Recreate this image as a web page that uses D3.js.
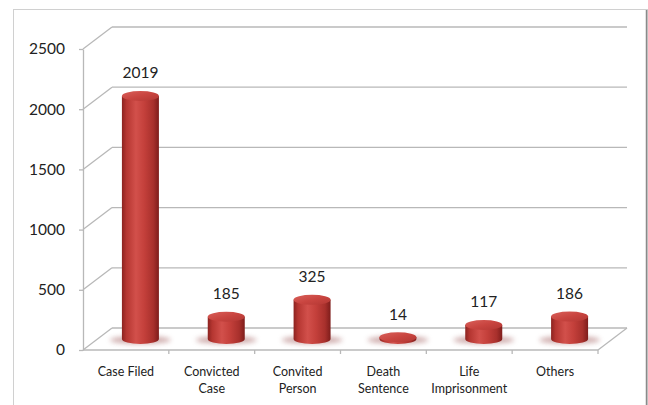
<!DOCTYPE html>
<html><head><meta charset="utf-8">
<script src="https://cdn.jsdelivr.net/npm/d3@7"></script>
<style>
html,body{margin:0;padding:0;background:#fff;}
svg{display:block;font-family:Lato,"Open Sans",sans-serif;}
</style></head>
<body>
<svg id="chart" width="648" height="405"></svg>
<script>
const categories = ["Case Filed","Convicted Case","Convited Person","Death Sentence","Life Imprisonment","Others"];
const categoryLines = [["Case Filed"],["Convicted","Case"],["Convited","Person"],["Death","Sentence"],["Life","Imprisonment"],["Others"]];
const values = [2019,185,325,14,117,186];
const yTicks = [0,500,1000,1500,2000,2500];

(function(){
const svg = d3.select("#chart");
const W = 648, H = 405;
const mLeft = 83, mRight = 598, mTop = 49, mBottom = 350;
const depthX = 29, depthY = -22;

const x = d3.scaleBand().domain(categories).range([mLeft, mRight]).padding(0);
const y = d3.scaleLinear().domain([0, 2500]).range([mBottom, mTop]);

// outer border
svg.append("rect").attr("x",13.5).attr("y",9.5).attr("width",W-14).attr("height",H)
  .attr("fill","none").attr("stroke","#d0d0d0").attr("stroke-width",1);
svg.append("line").attr("x1",646.5).attr("x2",646.5).attr("y1",10).attr("y2",H)
  .attr("stroke","#8a8a8a").attr("stroke-width",1.5);

const grid = svg.append("g").attr("stroke","#b8b8b8").attr("stroke-width",1.3).attr("fill","none");
yTicks.forEach(t => {
  grid.append("line").attr("x1",mLeft+depthX).attr("x2",mRight+depthX)
    .attr("y1",y(t)+depthY).attr("y2",y(t)+depthY);
  grid.append("line").attr("x1",mLeft).attr("x2",mLeft+depthX)
    .attr("y1",y(t)).attr("y2",y(t)+depthY);
});
grid.append("line").attr("x1",mLeft).attr("x2",mRight).attr("y1",mBottom).attr("y2",mBottom);
grid.append("line").attr("x1",mRight).attr("x2",mRight+depthX).attr("y1",mBottom).attr("y2",mBottom+depthY);
categories.forEach((c,i) => {
  if (i === 0) return;
  grid.append("line").attr("x1",x(c)).attr("x2",x(c)).attr("y1",mBottom).attr("y2",mBottom+4);
});
grid.append("line").attr("x1",mRight).attr("x2",mRight).attr("y1",mBottom).attr("y2",mBottom+4);

// y axis
const yAxis = d3.axisLeft(y).tickValues(yTicks).tickFormat(d3.format("d")).tickSize(4).tickSizeOuter(0).tickPadding(14);
const ya = svg.append("g").attr("transform",`translate(${mLeft},0)`).call(yAxis);
ya.select(".domain").attr("stroke","#b8b8b8").attr("stroke-width",1.3);
ya.selectAll(".tick line").attr("stroke","#b8b8b8").attr("stroke-width",1.3);
ya.selectAll(".tick text").attr("fill","#222").style("font-size","15.5px").style("font-family","Lato,sans-serif");

// x axis labels
const xAxis = d3.axisBottom(x).tickSize(0).tickFormat(()=>"");
const xa = svg.append("g").attr("transform",`translate(0,${mBottom})`).call(xAxis);
xa.select(".domain").remove();
xa.selectAll(".tick").each(function(d,i){
  const t = d3.select(this).select("text").attr("y",null).attr("dy",null).attr("fill","#222")
    .style("font-size","12.5px").style("font-family","Lato,sans-serif");
  categoryLines[i].forEach((ln,j)=>{
    t.append("tspan").attr("x",0).attr("y",26 + j*17).text(ln);
  });
});

// defs
const defs = svg.append("defs");
const grad = defs.append("linearGradient").attr("id","cyl").attr("x1","0").attr("x2","1").attr("y1","0").attr("y2","0");
[[0,"#8c2320"],[0.12,"#b53631"],[0.38,"#d2504b"],[0.6,"#c4403b"],[0.85,"#a8302c"],[1,"#7e1d1b"]]
  .forEach(([o,c])=>grad.append("stop").attr("offset",o).attr("stop-color",c));
const gradTop = defs.append("linearGradient").attr("id","cylTop").attr("x1","0").attr("x2","1").attr("y1","0").attr("y2","1");
[[0,"#d9605a"],[0.5,"#c94540"],[1,"#b23733"]].forEach(([o,c])=>gradTop.append("stop").attr("offset",o).attr("stop-color",c));
defs.append("filter").attr("id","blur").attr("x","-50%").attr("y","-100%").attr("width","200%").attr("height","300%")
  .append("feGaussianBlur").attr("stdDeviation",2.5);

const rx = 18.5, ry = 5;
const bars = svg.append("g");
values.forEach((v,i)=>{
  const cx = x(categories[i]) + x.bandwidth()/2 + depthX/2;
  const yb = y(0) + depthY/2;
  const yt = y(v) + depthY/2;
  bars.append("ellipse").attr("cx",cx).attr("cy",yb+1).attr("rx",rx+12).attr("ry",4)
    .attr("fill","#a86a6a").attr("opacity",0.55).attr("filter","url(#blur)");
  bars.append("path")
    .attr("d",`M${cx-rx},${yt} L${cx-rx},${yb} A${rx},${ry} 0 0 0 ${cx+rx},${yb} L${cx+rx},${yt} Z`)
    .attr("fill","url(#cyl)");
  bars.append("ellipse").attr("cx",cx).attr("cy",yt).attr("rx",rx).attr("ry",ry)
    .attr("fill","url(#cylTop)");
  svg.append("text").attr("x",cx).attr("y",yt-23).attr("dy","0.35em").attr("text-anchor","middle")
    .attr("fill","#222").style("font-size","15.5px").text(v);
});
})();
</script>
</body></html>
